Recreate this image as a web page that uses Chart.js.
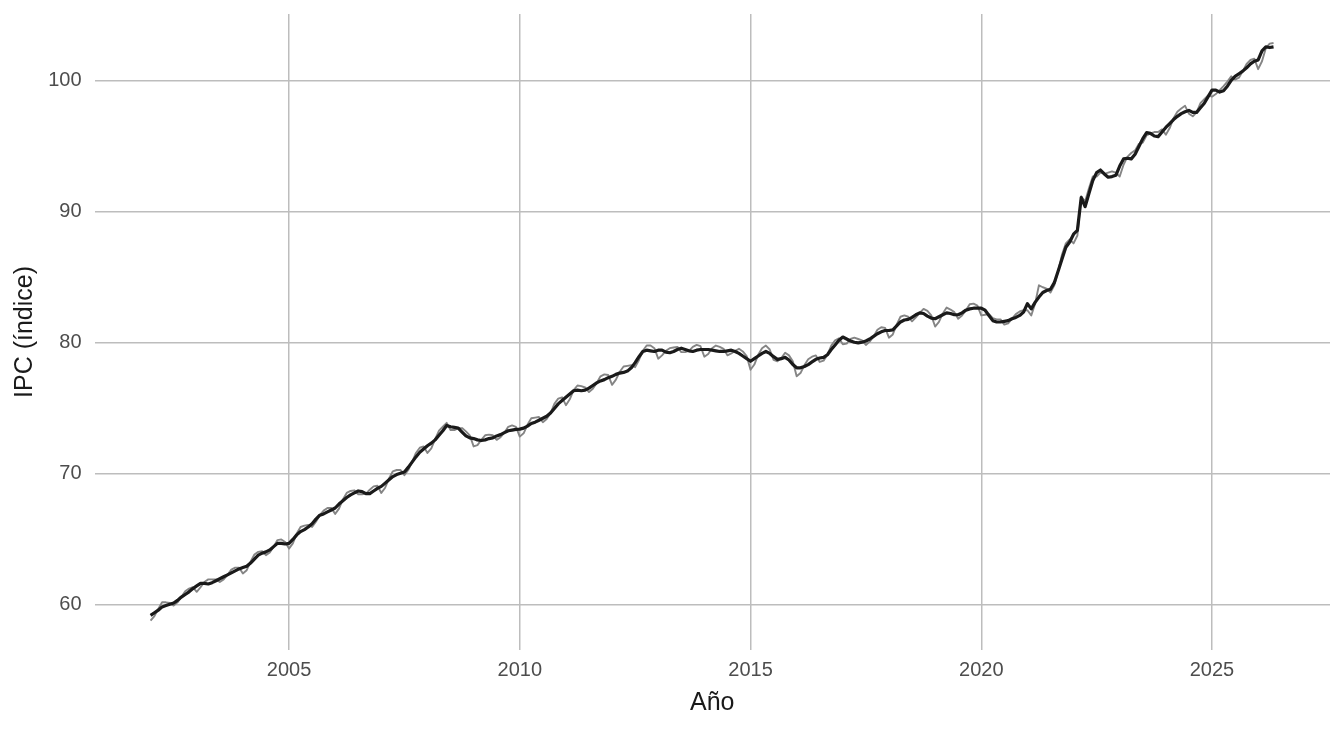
<!DOCTYPE html>
<html>
<head>
<meta charset="utf-8">
<script src="https://cdn.jsdelivr.net/npm/chart.js@4.4.1/dist/chart.umd.min.js"></script>
<style>
    body { margin: 0; background: #fff; }
    #wrap { width: 1344px; height: 729px; }
</style>
</head>
<body>
<div id="wrap"><canvas id="ipcChart"></canvas></div>
<script>
// serie mensual, enero 2002 a mayo 2026
const startYear = 2002;

// IPC original (linea gris)
const ipc = [
    58.8, 59.15, 59.7, 60.2, 60.2, 60.15, 59.95, 60.2, 60.6, 61.05, 61.25, 61.35,   // 2002
    61.0, 61.35, 61.75, 61.95, 61.95, 61.95, 61.75, 61.95, 62.3, 62.7, 62.85, 62.85, // 2003
    62.4, 62.65, 63.3, 63.85, 64.05, 64.1, 63.8, 64.0, 64.45, 64.95, 65.0, 64.8,     // 2004
    64.3, 64.7, 65.45, 65.95, 66.05, 66.1, 65.95, 66.35, 66.85, 67.2, 67.4, 67.4,    // 2005
    66.95, 67.35, 68.05, 68.55, 68.7, 68.75, 68.45, 68.45, 68.5, 68.8, 69.05, 69.1,  // 2006
    68.55, 68.95, 69.65, 70.2, 70.3, 70.3, 69.9, 70.3, 70.9, 71.6, 72.0, 72.1,       // 2007
    71.6, 71.95, 72.65, 73.3, 73.6, 73.9, 73.35, 73.35, 73.5, 73.5, 73.25, 72.95,    // 2008
    72.1, 72.2, 72.6, 72.95, 73.0, 72.95, 72.6, 72.8, 73.15, 73.6, 73.7, 73.6,       // 2009
    72.85, 73.1, 73.75, 74.25, 74.3, 74.35, 73.95, 74.2, 74.65, 75.35, 75.75, 75.85, // 2010
    75.25, 75.7, 76.4, 76.75, 76.7, 76.6, 76.25, 76.5, 76.95, 77.45, 77.6, 77.55,    // 2011
    76.8, 77.2, 77.8, 78.2, 78.25, 78.3, 78.15, 78.7, 79.4, 79.8, 79.8, 79.6,        // 2012
    78.8, 79.05, 79.4, 79.6, 79.65, 79.7, 79.3, 79.3, 79.4, 79.7, 79.85, 79.75,      // 2013
    78.95, 79.15, 79.6, 79.8, 79.7, 79.55, 79.05, 79.2, 79.4, 79.55, 79.35, 79.0,    // 2014
    77.95, 78.35, 79.1, 79.6, 79.8, 79.5, 78.7, 78.6, 78.85, 79.25, 79.05, 78.6,     // 2015
    77.45, 77.7, 78.3, 78.75, 78.95, 79.05, 78.55, 78.65, 79.1, 79.8, 80.2, 80.35,   // 2016
    79.9, 79.95, 80.3, 80.4, 80.3, 80.2, 79.85, 80.1, 80.5, 81.0, 81.2, 81.15,       // 2017
    80.4, 80.65, 81.4, 82.0, 82.1, 82.0, 81.65, 81.95, 82.3, 82.6, 82.45, 82.1,      // 2018
    81.25, 81.6, 82.25, 82.7, 82.55, 82.35, 81.85, 82.1, 82.5, 82.95, 83.0, 82.85,   // 2019
    82.1, 82.15, 82.2, 81.9, 81.8, 81.8, 81.4, 81.5, 81.85, 82.2, 82.4, 82.5,        // 2020
    82.5, 82.1, 83.0, 84.4, 84.25, 84.15, 83.85, 84.4, 85.5, 86.75, 87.6, 87.9,      // 2021
    87.6, 88.2, 91.2, 90.8, 91.8, 92.7, 92.7, 93.0, 92.9, 93.0, 93.1, 93.0,          // 2022
    92.7, 93.6, 94.2, 94.5, 94.7, 95.2, 95.3, 95.85, 96.0, 96.1, 96.1, 96.3,         // 2023
    95.9, 96.4, 97.15, 97.65, 97.9, 98.1, 97.5, 97.3, 97.6, 98.3, 98.6, 98.9,        // 2024
    98.8, 99.0, 99.3, 99.6, 99.95, 100.35, 100.1, 100.25, 100.75, 101.3, 101.6, 101.7, // 2025
    100.9, 101.5, 102.5, 102.85, 102.9                                               // 2026
];

// tendencia / serie suavizada (linea negra)
const tendencia = [
    59.2, 59.4, 59.6, 59.85, 59.95, 60.05, 60.15, 60.35, 60.6, 60.8, 61.0, 61.25,    // 2002
    61.45, 61.65, 61.65, 61.6, 61.7, 61.85, 62.0, 62.15, 62.3, 62.45, 62.6, 62.75,   // 2003
    62.85, 62.95, 63.2, 63.5, 63.8, 63.95, 64.05, 64.2, 64.45, 64.7, 64.7, 64.65,    // 2004
    64.7, 65.0, 65.35, 65.6, 65.75, 65.95, 66.2, 66.55, 66.85, 66.95, 67.1, 67.25,   // 2005
    67.4, 67.7, 67.95, 68.2, 68.4, 68.55, 68.7, 68.65, 68.5, 68.5, 68.7, 68.9,       // 2006
    69.05, 69.3, 69.55, 69.8, 69.95, 70.05, 70.15, 70.5, 70.9, 71.3, 71.65, 71.9,    // 2007
    72.15, 72.35, 72.6, 72.95, 73.3, 73.7, 73.6, 73.55, 73.5, 73.2, 72.9, 72.75,     // 2008
    72.7, 72.6, 72.55, 72.6, 72.7, 72.75, 72.9, 73.0, 73.15, 73.3, 73.35, 73.4,      // 2009
    73.42, 73.5, 73.65, 73.85, 73.95, 74.1, 74.25, 74.4, 74.65, 75.0, 75.35, 75.6,   // 2010
    75.85, 76.1, 76.35, 76.4, 76.35, 76.4, 76.55, 76.75, 76.95, 77.1, 77.2, 77.35,   // 2011
    77.45, 77.6, 77.7, 77.75, 77.85, 78.1, 78.5, 78.95, 79.35, 79.45, 79.4, 79.35,   // 2012
    79.45, 79.45, 79.3, 79.25, 79.35, 79.5, 79.6, 79.5, 79.4, 79.35, 79.45, 79.5,    // 2013
    79.5, 79.5, 79.45, 79.4, 79.35, 79.35, 79.4, 79.45, 79.35, 79.2, 79.0, 78.8,     // 2014
    78.6, 78.8, 79.0, 79.2, 79.35, 79.2, 78.95, 78.75, 78.8, 78.9, 78.7, 78.35,      // 2015
    78.1, 78.1, 78.2, 78.35, 78.55, 78.75, 78.85, 78.9, 79.1, 79.5, 79.85, 80.2,     // 2016
    80.45, 80.3, 80.15, 80.05, 80.0, 80.05, 80.15, 80.3, 80.5, 80.7, 80.85, 80.95,   // 2017
    80.95, 81.0, 81.3, 81.6, 81.75, 81.8, 81.95, 82.15, 82.3, 82.25, 82.05, 81.9,    // 2018
    81.85, 82.0, 82.15, 82.3, 82.25, 82.15, 82.15, 82.3, 82.5, 82.6, 82.65, 82.65,   // 2019
    82.65, 82.5, 82.1, 81.7, 81.6, 81.6, 81.65, 81.7, 81.85, 81.95, 82.1, 82.35,     // 2020
    83.0, 82.6, 83.1, 83.5, 83.85, 84.0, 84.1, 84.6, 85.5, 86.4, 87.3, 87.7,         // 2021
    88.3, 88.6, 91.1, 90.4, 91.4, 92.4, 93.0, 93.2, 92.9, 92.65, 92.7, 92.8,         // 2022
    93.5, 94.05, 94.1, 94.05, 94.4, 95.0, 95.6, 96.05, 96.0, 95.8, 95.75, 96.1,      // 2023
    96.45, 96.75, 97.05, 97.3, 97.5, 97.65, 97.75, 97.6, 97.6, 97.95, 98.3, 98.8,    // 2024
    99.3, 99.3, 99.15, 99.25, 99.6, 100.05, 100.35, 100.55, 100.75, 101.0, 101.3, 101.5, // 2025
    101.6, 102.3, 102.6, 102.55, 102.6                                               // 2026
];

const xTicks = [2005, 2010, 2015, 2020, 2025];
const yTicks = [60, 70, 80, 90, 100];

const toPoints = (values) => values.map((v, i) => ({ x: startYear + i / 12, y: v }));

const font = "'Liberation Sans', Arial, Helvetica, sans-serif";
const gridColor = '#bdbdbd';

const ctx = document.getElementById('ipcChart').getContext('2d');
new Chart(ctx, {
    type: 'line',
    data: {
        datasets: [
            {
                label: 'Tendencia',
                data: toPoints(tendencia),
                borderColor: '#1a1a1a',
                borderWidth: 3.2,
                borderJoinStyle: 'round',
                pointRadius: 0,
                tension: 0,
                order: 0
            },
            {
                label: 'IPC',
                data: toPoints(ipc),
                borderColor: '#858585',
                borderWidth: 1.9,
                borderJoinStyle: 'round',
                pointRadius: 0,
                tension: 0,
                order: 1
            }
        ]
    },
    options: {
        responsive: true,
        maintainAspectRatio: false,
        animation: false,
        devicePixelRatio: 1,
        layout: { padding: { top: 14, right: 14, left: 0, bottom: 0 } },
        plugins: {
            legend: { display: false },
            tooltip: { enabled: false }
        },
        scales: {
            x: {
                type: 'linear',
                min: 2000.785,
                max: 2027.557,
                afterBuildTicks: (scale) => { scale.ticks = xTicks.map(v => ({ value: v })); },
                afterFit: (scale) => {
                    scale.height = 79;
                    scale.paddingLeft = 0;
                    scale.paddingRight = 0;
                },
                grid: { color: gridColor, lineWidth: 1.5, drawTicks: false },
                border: { display: false },
                ticks: {
                    padding: 8,
                    color: '#4d4d4d',
                    font: { family: font, size: 20 },
                    callback: (v) => String(v)
                },
                title: {
                    display: true,
                    text: 'Año',
                    color: '#1a1a1a',
                    font: { family: font, size: 25, lineHeight: 1.2 },
                    padding: { top: 0, bottom: 11 }
                }
            },
            y: {
                type: 'linear',
                min: 56.56,
                max: 105.11,
                afterBuildTicks: (scale) => { scale.ticks = yTicks.map(v => ({ value: v })); },
                afterFit: (scale) => {
                    scale.width = 94.5;
                    scale.paddingTop = 0;
                    scale.paddingBottom = 0;
                },
                grid: { color: gridColor, lineWidth: 1.5, drawTicks: false },
                border: { display: false },
                ticks: {
                    padding: 13,
                    color: '#4d4d4d',
                    font: { family: font, size: 20 },
                    callback: (v) => String(v)
                },
                title: {
                    display: true,
                    text: 'IPC (índice)',
                    color: '#1a1a1a',
                    font: { family: font, size: 25, lineHeight: 1.2 },
                    padding: { top: 10, bottom: 0 }
                }
            }
        }
    }
});
</script>
</body>
</html>
